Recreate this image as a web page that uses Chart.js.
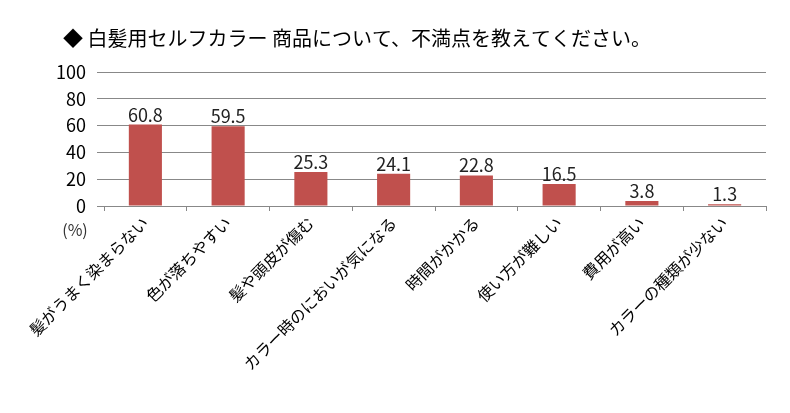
<!DOCTYPE html>
<html lang="ja">
<head>
<meta charset="UTF-8">
<title>不満点</title>
<script src="https://cdn.jsdelivr.net/npm/chart.js@4.4.0/dist/chart.umd.min.js"></script>
<style>
  body { margin: 0; background: #fff; }
  #wrap { position: relative; width: 790px; height: 413px; }
</style>
</head>
<body>
<div id="wrap"><canvas id="chart" width="790" height="413"></canvas></div>
<script>
const titleText = '◆ 白髪用セルフカラー 商品について、不満点を教えてください。';
const labels = ['髪がうまく染まらない', '色が落ちやすい', '髪や頭皮が傷む', 'カラー時のにおいが気になる',
                '時間がかかる', '使い方が難しい', '費用が高い', 'カラーの種類が少ない'];
const values = [60.8, 59.5, 25.3, 24.1, 22.8, 16.5, 3.8, 1.3];
const yTicks = [0, 20, 40, 60, 80, 100];

const FONT = '"Noto Sans CJK JP", "Noto Sans", sans-serif';

// title, unit and value labels
const extras = {
  id: 'extras',
  afterDatasetsDraw(chart) {
    const ctx = chart.ctx;
    ctx.save();
    ctx.fillStyle = '#000';
    ctx.font = '20px ' + FONT;
    ctx.textAlign = 'left';
    ctx.textBaseline = 'middle';
    ctx.fillText(titleText, 63, 38);

    ctx.font = '16px ' + FONT;
    ctx.fillStyle = '#333';
    ctx.textAlign = 'center';
    ctx.fillText('(%)', 75, chart.chartArea.bottom + 24);

    ctx.font = '18px ' + FONT;
    ctx.fillStyle = '#222';
    ctx.textBaseline = 'alphabetic';
    chart.getDatasetMeta(0).data.forEach((bar, i) => {
      ctx.fillText(values[i].toFixed(1), bar.x, bar.y - 3);
    });
    ctx.restore();
  }
};

new Chart(document.getElementById('chart'), {
  type: 'bar',
  data: {
    labels: labels,
    datasets: [{
      data: values,
      backgroundColor: '#C0504D',
      borderWidth: 0,
      categoryPercentage: 1,
      barPercentage: 0.4
    }]
  },
  plugins: [extras],
  options: {
    responsive: false,
    animation: false,
    layout: { padding: { top: 72, right: 24, bottom: 0, left: 0 } },
    plugins: { legend: { display: false }, tooltip: { enabled: false } },
    scales: {
      x: {
        offset: true,
        grid: { display: true, drawOnChartArea: false, drawTicks: true, tickLength: 5, color: '#888', offset: true },
        border: { color: '#888' },
        ticks: {
          minRotation: 45, maxRotation: 45, autoSkip: false,
          color: '#000', font: { family: FONT, size: 16 }, padding: 2
        },
        afterFit(scale) { scale.height = 207; }
      },
      y: {
        min: 0, max: 100,
        afterBuildTicks(scale) { scale.ticks = yTicks.map(v => ({ value: v })); },
        grid: { color: '#888', tickLength: 7 },
        border: { display: false },
        ticks: { color: '#000', font: { family: FONT, size: 18 }, padding: 11 },
        afterFit(scale) { scale.width = 104; }
      }
    }
  }
});
</script>
</body>
</html>
